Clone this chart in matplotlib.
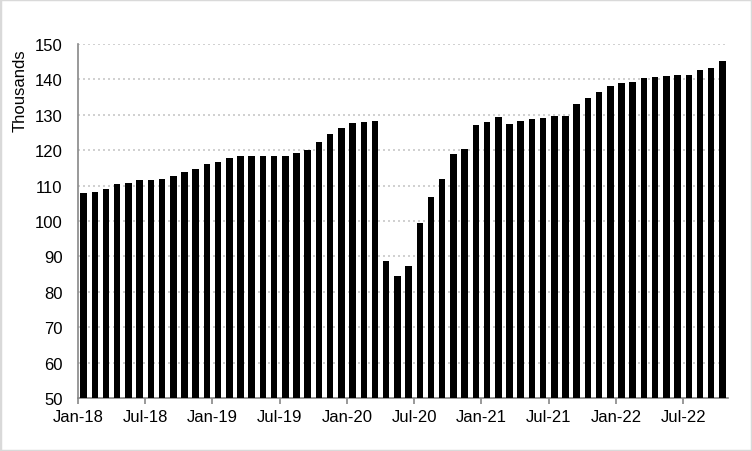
import matplotlib.pyplot as plt
import matplotlib.patches as mpatches
import numpy as np
import pandas as pd

plt.rcParams["font.family"] = ["Liberation Sans", "DejaVu Sans"]

# monthly values, Jan-18 .. Oct-22 (thousands)
months = pd.date_range("2018-01-01", "2022-10-01", freq="MS")
values = [
    107.9, 108.2, 109.0, 110.4, 110.7, 111.5, 111.5, 112.0, 112.7, 113.8, 114.7, 116.0,
    116.8, 117.7, 118.3, 118.5, 118.5, 118.5, 118.3, 119.2, 120.0, 122.3, 124.5, 126.2,
    127.6, 128.0, 128.3, 88.7, 84.5, 87.3, 99.4, 106.8, 111.9, 118.9, 120.3, 127.0,
    128.0, 129.4, 127.4, 128.2, 128.8, 129.1, 129.7, 129.7, 133.0, 134.7, 136.4, 138.1,
    139.0, 139.2, 140.4, 140.6, 140.9, 141.2, 141.2, 142.6, 143.1, 145.1,
]
tick_labels = ["Jan-18", "Jul-18", "Jan-19", "Jul-19", "Jan-20",
               "Jul-20", "Jan-21", "Jul-21", "Jan-22", "Jul-22"]


def main():
    fig = plt.figure(figsize=(7.52, 4.52), dpi=100)
    ax = fig.add_axes([78 / 752, 1 - 399 / 452, 650 / 752, 354 / 452])

    x = np.arange(len(months))
    ax.bar(x, values, width=0.58, color="black", zorder=3)

    ax.set_xlim(-0.5, len(months) - 0.5)
    ax.set_ylim(50, 150)
    ax.set_yticks(np.arange(50, 151, 10))
    ax.set_xticks(np.arange(len(tick_labels)) * 6 - 0.5)
    ax.set_xticklabels(tick_labels)

    ax.grid(axis="y", color="#c8c8c8", linestyle=(0, (1.2, 1.8)), linewidth=1.2, zorder=0)
    for side in ["top", "right"]:
        ax.spines[side].set_visible(False)
    for side in ["left", "bottom"]:
        ax.spines[side].set_color("#888888")
        ax.spines[side].set_linewidth(1.2)

    ax.tick_params(axis="y", length=0, pad=11, labelsize=12)
    ax.tick_params(axis="x", length=4, width=1.2, color="#888888", pad=4, labelsize=12)
    ax.set_ylabel("Thousands", fontsize=12, va="center")
    ax.yaxis.set_label_coords(-0.089, 0.87)

    fig.patches.append(mpatches.Rectangle((0, 0), 1, 1, transform=fig.transFigure,
                                          fill=False, edgecolor="#d9d9d9", linewidth=2.5))

    fig.savefig("out.png", dpi=100)


if __name__ == "__main__":
    main()
